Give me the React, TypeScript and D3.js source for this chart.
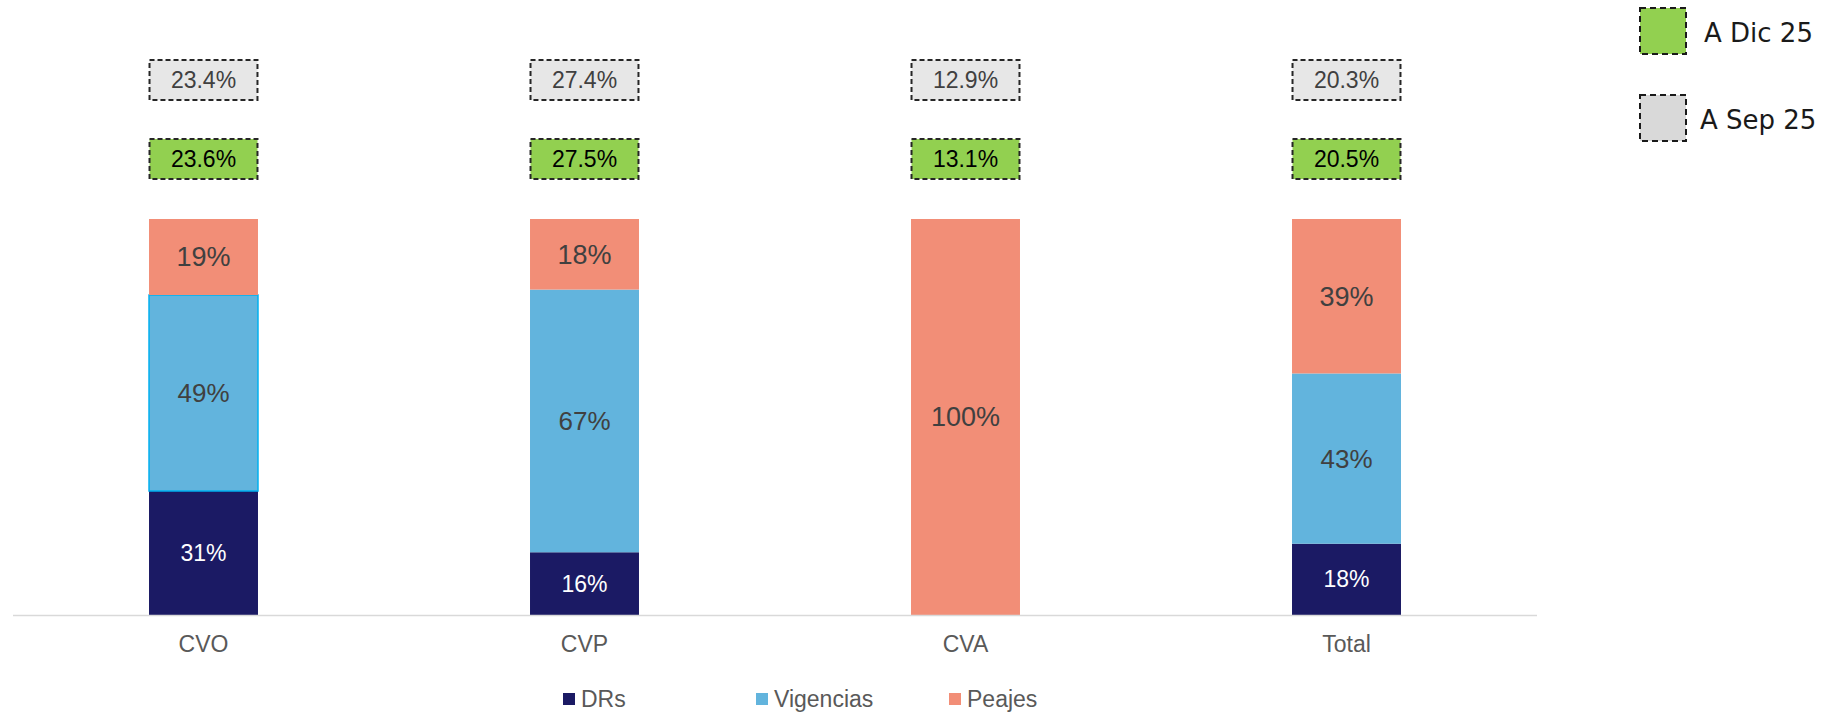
import React, { useMemo } from "react";
import * as d3 from "d3";

const WIDTH = 1827;
const HEIGHT = 714;

const CATEGORIES = ["CVO", "CVP", "CVA", "Total"];
const SERIES = ["DRs", "Vigencias", "Peajes"];
const DRS = [31, 16, 0, 18];
const VIGENCIAS = [49, 67, 0, 43];
const PEAJES = [19, 18, 100, 39];
const A_DIC_25 = ["23.6%", "27.5%", "13.1%", "20.5%"];
const A_SEP_25 = ["23.4%", "27.4%", "12.9%", "20.3%"];

const COLORS: Record<string, string> = {
  DRs: "#1b1a64",
  Vigencias: "#62b4dd",
  Peajes: "#f28e77",
};
const TEXT_COLORS: Record<string, string> = {
  DRs: "#ffffff",
  Vigencias: "#404040",
  Peajes: "#404040",
};
const LABEL_SIZE: Record<string, number> = {
  DRs: 23,
  Vigencias: 26,
  Peajes: 27,
};

const AXIS_LEFT = 13;
const AXIS_RIGHT = 1537;
const BASELINE = 615;
const TOP = 219;
const FONT = "'Liberation Sans', Arial, sans-serif";

export default function App() {
  const rows = useMemo(
    () =>
      CATEGORIES.map((c, i) => ({
        cat: c,
        DRs: DRS[i],
        Vigencias: VIGENCIAS[i],
        Peajes: PEAJES[i],
      })),
    []
  );

  const stacked = useMemo(
    () =>
      d3
        .stack<any>()
        .keys(SERIES)
        .offset(d3.stackOffsetExpand)(rows),
    [rows]
  );

  const x = d3
    .scaleBand()
    .domain(CATEGORIES)
    .range([AXIS_LEFT, AXIS_RIGHT])
    .paddingInner(0.714)
    .paddingOuter(0.357);
  const y = d3.scaleLinear().domain([0, 1]).range([BASELINE, TOP]);
  const bw = x.bandwidth();

  const legendX = d3
    .scalePoint()
    .domain(SERIES)
    .range([563, 949]);

  return (
    <div style={{ position: "absolute", left: 0, top: 0 }}>
      <svg width={WIDTH} height={HEIGHT} style={{ display: "block", background: "#fff" }}>
        {stacked.map((layer) => (
          <g key={layer.key}>
            {layer.map((d, i) => {
              const h = y(d[0]) - y(d[1]);
              if (h <= 0) return null;
              const cat = CATEGORIES[i];
              const val = (d.data as any)[layer.key];
              return (
                <g key={cat}>
                  <rect
                    x={x(cat)}
                    y={y(d[1])}
                    width={bw}
                    height={h}
                    fill={COLORS[layer.key]}
                    stroke={cat === "CVO" && layer.key === "Vigencias" ? "#00b0f0" : "none"}
                    strokeWidth={1.5}
                  />
                  <text
                    x={(x(cat) ?? 0) + bw / 2}
                    y={y(d[1]) + h / 2}
                    dy="0.35em"
                    textAnchor="middle"
                    fontFamily={FONT}
                    fontSize={LABEL_SIZE[layer.key]}
                    fill={TEXT_COLORS[layer.key]}
                  >
                    {val}%
                  </text>
                </g>
              );
            })}
          </g>
        ))}

        <line
          x1={AXIS_LEFT}
          x2={AXIS_RIGHT}
          y1={BASELINE + 0.5}
          y2={BASELINE + 0.5}
          stroke="#d9d9d9"
          strokeWidth={1.5}
        />

        {CATEGORIES.map((c) => (
          <text
            key={c}
            x={(x(c) ?? 0) + bw / 2}
            y={652}
            textAnchor="middle"
            fontFamily={FONT}
            fontSize={23}
            fill="#595959"
          >
            {c}
          </text>
        ))}

        {CATEGORIES.map((c, i) => (
          <g key={"ann" + c}>
            <rect
              x={(x(c) ?? 0) + 0.5}
              y={60}
              width={bw - 1}
              height={40}
              fill="#e7e7e7"
              stroke="#262626"
              strokeWidth={2}
              strokeDasharray="5,3"
            />
            <text
              x={(x(c) ?? 0) + bw / 2}
              y={80}
              dy="0.35em"
              textAnchor="middle"
              fontFamily={FONT}
              fontSize={23}
              fill="#404040"
            >
              {A_SEP_25[i]}
            </text>
            <rect
              x={(x(c) ?? 0) + 0.5}
              y={139}
              width={bw - 1}
              height={40}
              fill="#92d050"
              stroke="#262626"
              strokeWidth={2}
              strokeDasharray="5,3"
            />
            <text
              x={(x(c) ?? 0) + bw / 2}
              y={159}
              dy="0.35em"
              textAnchor="middle"
              fontFamily={FONT}
              fontSize={23}
              fill="#000000"
            >
              {A_DIC_25[i]}
            </text>
          </g>
        ))}

        {/* bottom legend */}
        {SERIES.map((s) => (
          <g key={"leg" + s} transform={`translate(${legendX(s)},693)`}>
            <rect width={12} height={12} fill={COLORS[s]} />
            <text x={18} y={14} fontFamily={FONT} fontSize={23} fill="#595959">
              {s}
            </text>
          </g>
        ))}

        {/* right legend */}
        <g fontFamily="'DejaVu Sans', sans-serif" fontSize={26} fill="#1a1a1a">
          <rect
            x={1640}
            y={8}
            width={46}
            height={46}
            fill="#92d050"
            stroke="#1a1a1a"
            strokeWidth={2}
            strokeDasharray="6,4"
          />
          <text x={1704} y={41.5}>A Dic 25</text>
          <rect
            x={1640}
            y={95}
            width={46}
            height={46}
            fill="#d9d9d9"
            stroke="#1a1a1a"
            strokeWidth={2}
            strokeDasharray="6,4"
          />
          <text x={1700} y={129}>A Sep 25</text>
        </g>
      </svg>
    </div>
  );
}
